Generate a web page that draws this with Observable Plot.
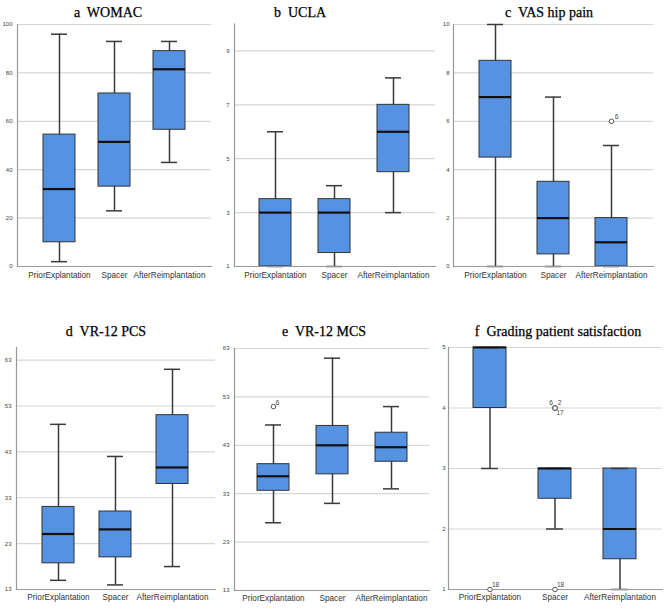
<!DOCTYPE html>
<html><head><meta charset="utf-8">
<script src="https://cdn.jsdelivr.net/npm/d3@7"></script>
<script src="https://cdn.jsdelivr.net/npm/@observablehq/plot@0.6"></script>
<style>
body{margin:0;background:#fff;}
#root{position:relative;width:668px;height:609px;overflow:hidden;background:#fff;}
.title{position:absolute;font-family:"Liberation Serif","Times New Roman",serif;font-size:14px;line-height:14px;color:#000;white-space:pre;transform:translateX(-50%);-webkit-text-stroke:0.25px #000;}
.panel{position:absolute;}
.panel svg{display:block;overflow:visible;}
</style></head><body><div id="root"></div>
<script>
// ---------- data ----------
const categories = ["PriorExplantation", "Spacer", "AfterReimplantation"];

// a WOMAC
const womacMin    = [2, 23, 43];
const womacQ1     = [10, 33, 56.5];
const womacMedian = [32, 51.5, 81.5];
const womacQ3     = [54.5, 71.5, 89];
const womacMax    = [96, 93, 93];
const womacOutliers = [];
const womacTicks  = [0, 20, 40, 60, 80, 100];
const womacDomain = [0, 100];

// b UCLA
const uclaMin    = [1, 1, 3];
const uclaQ1     = [1, 1.5, 4.5];
const uclaMedian = [3, 3, 6];
const uclaQ3     = [3.5, 3.5, 7];
const uclaMax    = [6, 4, 8];
const uclaOutliers = [];
const uclaTicks  = [1, 3, 5, 7, 9];
const uclaDomain = [1, 10];

// c VAS hip pain
const vasMin    = [0, 0, 0];
const vasQ1     = [4.5, 0.5, 0];
const vasMedian = [7, 2, 1];
const vasQ3     = [8.5, 3.5, 2];
const vasMax    = [10, 7, 5];
const vasOutliers = [{group: "AfterReimplantation", value: 6, label: "6"}];
const vasTicks  = [0, 2, 4, 6, 8, 10];
const vasDomain = [0, 10];

// d VR-12 PCS
const pcsMin    = [15, 14, 18];
const pcsQ1     = [18.7, 20, 36];
const pcsMedian = [25.1, 26.1, 39.6];
const pcsQ3     = [31, 30, 51];
const pcsMax    = [49, 42, 61];
const pcsOutliers = [];
const pcsTicks  = [13, 23, 33, 43, 53, 63];
const pcsDomain = [13, 65.75];

// e VR-12 MCS
const mcsMin    = [27, 31, 34];
const mcsQ1     = [33.6, 37, 39.6];
const mcsMedian = [36.6, 43, 42.6];
const mcsQ3     = [39.1, 47, 45.6];
const mcsMax    = [47.2, 61, 51];
const mcsOutliers = [{group: "PriorExplantation", value: 51, label: "6"}];
const mcsTicks  = [13, 23, 33, 43, 53, 63];
const mcsDomain = [13, 63];

// f Grading patient satisfaction
const satMin    = [3, 2, 1];
const satQ1     = [4, 2.5, 1.5];
const satMedian = [5, 3, 2];
const satQ3     = [5, 3, 3];
const satMax    = [5, 3, 3];
const satOutliers = [
  {group: "PriorExplantation", value: 1, label: "18"},
  {group: "Spacer", value: 4, label: "6"},
  {group: "Spacer", value: 4, label: "2"},
  {group: "Spacer", value: 4, label: "17"},
  {group: "Spacer", value: 1, label: "18"}
];
const satTicks  = [1, 2, 3, 4, 5];
const satDomain = [1, 5];

// ---------- drawing ----------
const root = document.getElementById("root");
const BOX = "#5593e2";

function panel(cfg) {
  const rows = categories.map((c, i) => ({
    group: c, min: cfg.min[i], q1: cfg.q1[i], median: cfg.median[i], q3: cfg.q3[i], max: cfg.max[i]
  }));
  const L = cfg.layout;
  const labelMarks = cfg.outliers.map((o, i) =>
    Plot.text([o], {x: "group", y: "value", text: "label", dx: L.labels[i][0], dy: L.labels[i][1],
      fontSize: 6.5, fill: "#444", textAnchor: "middle"}));
  const chart = Plot.plot({
    width: L.width, height: L.height,
    marginLeft: L.ml, marginRight: L.mr, marginTop: L.mt, marginBottom: L.mb,
    style: {fontFamily: "'Liberation Sans', Arial, sans-serif", background: "white"},
    x: {domain: categories, paddingInner: L.pi, paddingOuter: L.po, align: 0.5},
    y: {domain: cfg.domain},
    marks: [
      Plot.gridY(cfg.ticks, {stroke: "#d6d6d6", strokeOpacity: 1, strokeWidth: 1.2}),
      Plot.axisY(cfg.ticks, {tickSize: 0, tickPadding: L.tp, fontSize: 6, fill: "#444", label: null, tickFormat: d => String(d)}),
      Plot.axisX({tickSize: 0, tickPadding: L.xp, fontSize: 8.2, fill: "#333", label: null}),
      Plot.ruleX(rows, {x: "group", y1: "min", y2: "max", stroke: "#3a3a3a", strokeWidth: 1.5}),
      Plot.barY(rows, {x: "group", y1: "q1", y2: "q3", fill: BOX, stroke: "#333", strokeWidth: 1}),
      Plot.tickY(rows, {x: "group", y: "min", insetLeft: 8, insetRight: 8, stroke: "#3a3a3a", strokeWidth: 1.5}),
      Plot.tickY(rows, {x: "group", y: "max", insetLeft: 8, insetRight: 8, stroke: "#3a3a3a", strokeWidth: 1.5}),
      Plot.tickY(rows, {x: "group", y: "median", stroke: "#111", strokeWidth: 2.2}),
      Plot.frame({anchor: "left", stroke: "#999", strokeWidth: 1.2}),
      Plot.frame({anchor: "bottom", stroke: "#999", strokeWidth: 1.2}),
      Plot.dot(cfg.outliers, {x: "group", y: "value", r: 2.3, stroke: "#555", fill: "white", strokeWidth: 1}),
      ...labelMarks
    ]
  });
  const div = document.createElement("div");
  div.className = "panel";
  div.style.left = L.left + "px";
  div.style.top = L.top + "px";
  div.appendChild(chart);
  root.appendChild(div);
  const t = document.createElement("div");
  t.className = "title";
  t.textContent = cfg.title;
  t.style.left = L.tx + "px";
  t.style.top = L.ty + "px";
  root.appendChild(t);
}

panel({title: "a  WOMAC", min: womacMin, q1: womacQ1, median: womacMedian, q3: womacQ3, max: womacMax,
  outliers: womacOutliers, ticks: womacTicks, domain: womacDomain,
  layout: {left: 0, top: 20, width: 215, height: 268, ml: 17, mr: 4, mt: 4, mb: 22, pi: 0.42, po: 0.46, tp: 5, xp: 6,
    tx: 108, ty: 5.5, labels: []}});

panel({title: "b  UCLA", min: uclaMin, q1: uclaQ1, median: uclaMedian, q3: uclaQ3, max: uclaMax,
  outliers: uclaOutliers, ticks: uclaTicks, domain: uclaDomain,
  layout: {left: 220, top: 20, width: 219, height: 268, ml: 14, mr: 4, mt: 3.5, mb: 22, pi: 0.45, po: 0.41, tp: 5, xp: 6,
    tx: 300, ty: 5.5, labels: []}});

panel({title: "c  VAS hip pain", min: vasMin, q1: vasQ1, median: vasMedian, q3: vasQ3, max: vasMax,
  outliers: vasOutliers, ticks: vasTicks, domain: vasDomain,
  layout: {left: 440, top: 20, width: 217, height: 268, ml: 13, mr: 4, mt: 4, mb: 22, pi: 0.44, po: 0.43, tp: 4, xp: 6,
    tx: 549, ty: 5.5, labels: [[5, -4]]}});

panel({title: "d  VR-12 PCS", min: pcsMin, q1: pcsQ1, median: pcsMedian, q3: pcsQ3, max: pcsMax,
  outliers: pcsOutliers, ticks: pcsTicks, domain: pcsDomain,
  layout: {left: 0, top: 339, width: 219, height: 270, ml: 16, mr: 4, mt: 8, mb: 20, pi: 0.43, po: 0.45, tp: 5, xp: 5,
    tx: 106, ty: 325, labels: []}});

panel({title: "e  VR-12 MCS", min: mcsMin, q1: mcsQ1, median: mcsMedian, q3: mcsQ3, max: mcsMax,
  outliers: mcsOutliers, ticks: mcsTicks, domain: mcsDomain,
  layout: {left: 220, top: 339, width: 213, height: 270, ml: 14, mr: 4, mt: 9, mb: 19, pi: 0.46, po: 0.36, tp: 5, xp: 5,
    tx: 324, ty: 325, labels: [[4, -4]]}});

panel({title: "f  Grading patient satisfaction", min: satMin, q1: satQ1, median: satMedian, q3: satQ3, max: satMax,
  outliers: satOutliers, ticks: satTicks, domain: satDomain,
  layout: {left: 440, top: 339, width: 226, height: 270, ml: 8, mr: 4, mt: 8, mb: 20, pi: 0.49, po: 0.39, tp: 3, xp: 5,
    tx: 558, ty: 325, labels: [[5.5, -5], [-4, -5], [4.5, -5], [5, 5], [5.5, -5]]}});
</script>
</body></html>
